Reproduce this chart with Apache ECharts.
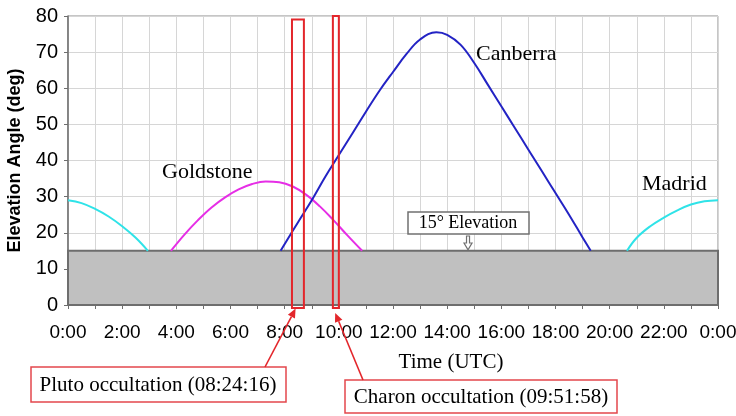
<!DOCTYPE html>
<html>
<head>
<meta charset="utf-8">
<script src="https://cdn.jsdelivr.net/npm/echarts@6/dist/echarts.min.js"></script>
<style>
  html, body { margin: 0; padding: 0; background: #fff; }
  #chart { width: 736px; height: 416px; }
</style>
</head>
<body>
<div id="chart"></div>
<script>
  // elevation tracks (hour UTC, degrees)
  var madridAmHours = [0, 0.5, 1, 1.5, 2, 2.5, 2.95];
  var madridAmElev = [29, 28.2, 26.6, 24.5, 21.8, 18.6, 15];
  var goldstoneHours = [3.8, 4.3, 4.8, 5.3, 5.8, 6.3, 6.8, 7.3, 7.8, 8.3, 8.8, 9.3, 9.8, 10.3, 10.86];
  var goldstoneElev = [15, 19.5, 23.5, 27, 29.8, 32, 33.5, 34.2, 34, 32.8, 30.5, 27.3, 23.5, 19.4, 15];
  var canberraHours = [7.85, 8.5, 9, 9.5, 10, 10.5, 11, 11.5, 12, 12.5, 13, 13.6, 14, 14.5, 15, 15.5, 16, 16.5, 17, 17.5, 18, 18.5, 19, 19.3];
  var canberraElev = [15, 23, 29, 35.5, 41.5, 47.5, 53.5, 59.3, 64.5, 69.5, 73.5, 75.5, 74.8, 72, 67, 61, 55, 49, 43, 37, 31, 25, 18.7, 15];
  var madridPmHours = [20.64, 21, 21.5, 22, 22.5, 23, 23.5, 24];
  var madridPmElev = [15, 18.6, 21.8, 24.2, 26.2, 27.8, 28.7, 29];

  var xTicks = [0, 24, 1];          // min, max, step (hours)
  var yTicks = [0, 80, 10];         // min, max, step (deg)
  var minElevation = 15;

  // occultation windows: [start, end, bottom, top]
  var plutoBox = [8.27, 8.71, -0.8, 79];
  var charonBox = [9.78, 10.0, -0.8, 80];
  var plutoTime = 8 + 24 / 60 + 16 / 3600;
  var charonTime = 9 + 51 / 60 + 58 / 3600;
  var elevationNoteHour = 14.77;

  function pairs(xs, ys) {
    return xs.map(function (x, i) { return [x, ys[i]]; });
  }

  var chart = echarts.init(document.getElementById('chart'));

  function boxRender(fill, stroke, lw) {
    return function (params, api) {
      var p0 = api.coord([api.value(0), api.value(3)]);
      var p1 = api.coord([api.value(1), api.value(2)]);
      return {
        type: 'rect',
        shape: { x: p0[0], y: p0[1], width: p1[0] - p0[0], height: p1[1] - p0[1] },
        style: { fill: fill, stroke: stroke, lineWidth: lw }
      };
    };
  }

  function track(name, data, color) {
    return {
      name: name,
      type: 'line',
      data: data,
      smooth: 0.4,
      showSymbol: false,
      z: 3,
      lineStyle: { color: color, width: 2 },
      itemStyle: { color: color }
    };
  }

  var option = {
    animation: false,
    backgroundColor: '#fff',
    grid: {
      left: 68, right: 18, top: 16, bottom: 111,
      outerBoundsMode: 'none',
      containLabel: false,
      show: true, borderColor: '#8c8c8c', borderWidth: 1
    },
    xAxis: {
      type: 'value',
      min: xTicks[0], max: xTicks[1], interval: xTicks[2],
      axisLine: { lineStyle: { color: '#6e6e6e', width: 1.5 } },
      axisTick: { length: 4, lineStyle: { color: '#6e6e6e' } },
      axisLabel: {
        margin: 18,
        fontFamily: 'Liberation Sans', fontSize: 19, color: '#000',
        formatter: function (v) { return v % 2 === 0 ? (v % 24) + ':00' : ''; }
      },
      splitLine: { lineStyle: { color: '#d6d6d6' } }
    },
    yAxis: {
      type: 'value',
      min: yTicks[0], max: yTicks[1], interval: yTicks[2],
      axisLine: { show: true, lineStyle: { color: '#6e6e6e', width: 1.5 } },
      axisTick: { show: true, length: 4, lineStyle: { color: '#6e6e6e' } },
      axisLabel: { margin: 10, fontFamily: 'Liberation Sans', fontSize: 20, color: '#000' },
      splitLine: { lineStyle: { color: '#d6d6d6' } },
      name: 'Elevation Angle (deg)',
      nameLocation: 'middle',
      nameGap: 44,
      nameTextStyle: { fontFamily: 'Liberation Sans', fontWeight: 'bold', fontSize: 18, color: '#000' }
    },
    series: [
      {
        name: 'below15', type: 'custom', z: 1,
        renderItem: boxRender('#c0c0c0', '#6e6e6e', 2),
        data: [[xTicks[0], xTicks[1], 0, minElevation]]
      },
      track('Madrid', pairs(madridAmHours, madridAmElev), '#2fe3e8'),
      track('Goldstone', pairs(goldstoneHours, goldstoneElev), '#e62ee6'),
      track('Canberra', pairs(canberraHours, canberraElev), '#2323c4'),
      track('Madrid2', pairs(madridPmHours, madridPmElev), '#2fe3e8'),
      {
        name: 'occultations', type: 'custom', z: 5,
        renderItem: boxRender('rgba(0,0,0,0)', '#e3262b', 2),
        data: [plutoBox, charonBox]
      }
    ]
  };

  chart.setOption(option);

  var serif = 'Liberation Serif';
  function arrow(from, to, color) {
    var dx = to[0] - from[0], dy = to[1] - from[1];
    var len = Math.sqrt(dx * dx + dy * dy), ux = dx / len, uy = dy / len;
    var hl = 9, hw = 4;
    var bx = to[0] - ux * hl, by = to[1] - uy * hl;
    return [
      { type: 'line', z: 20, shape: { x1: from[0], y1: from[1], x2: bx, y2: by },
        style: { stroke: color, lineWidth: 1.6 } },
      { type: 'polygon', z: 20,
        shape: { points: [to, [bx - uy * hw, by + ux * hw], [bx + uy * hw, by - ux * hw]] },
        style: { fill: color } }
    ];
  }

  var plutoTip = chart.convertToPixel({ gridIndex: 0 }, [plutoTime, -1]);
  var charonTip = chart.convertToPixel({ gridIndex: 0 }, [charonTime, -2.2]);
  var bandTop = chart.convertToPixel({ gridIndex: 0 }, [elevationNoteHour, minElevation]);
  var ex = bandTop[0], ey = bandTop[1];

  var graphics = [
    { type: 'text', x: 162, y: 172, style: { text: 'Goldstone', font: '22px ' + serif, fill: '#000', verticalAlign: 'middle' } },
    { type: 'text', x: 476, y: 54, style: { text: 'Canberra', font: '22px ' + serif, fill: '#000', verticalAlign: 'middle' } },
    { type: 'text', x: 642, y: 184, style: { text: 'Madrid', font: '22px ' + serif, fill: '#000', verticalAlign: 'middle' } },
    { type: 'text', x: 451, y: 362, style: { text: 'Time (UTC)', font: '21px ' + serif, fill: '#000', align: 'center', verticalAlign: 'middle' } },

    // 15 deg elevation callout
    { type: 'rect', z: 10, shape: { x: 408, y: 212, width: 121, height: 22 },
      style: { fill: '#fff', stroke: '#707070', lineWidth: 1.5 } },
    { type: 'text', z: 11, x: 468, y: 223, style: { text: '15° Elevation', font: '18px ' + serif, fill: '#000', align: 'center', verticalAlign: 'middle' } },
    { type: 'polygon', z: 10,
      shape: { points: [[ex - 1.5, 236], [ex + 1.5, 236], [ex + 1.5, 243], [ex + 4, 243], [ex, ey - 1], [ex - 4, 243], [ex - 1.5, 243]] },
      style: { fill: '#fff', stroke: '#707070', lineWidth: 1.2 } },

    // occultation notes
    { type: 'rect', z: 10, shape: { x: 31, y: 367, width: 255, height: 35 },
      style: { fill: '#fff', stroke: '#e3474c', lineWidth: 1.5 } },
    { type: 'text', z: 11, x: 158, y: 385, style: { text: 'Pluto occultation (08:24:16)', font: '21px ' + serif, fill: '#000', align: 'center', verticalAlign: 'middle' } },
    { type: 'rect', z: 10, shape: { x: 345, y: 380, width: 272, height: 33 },
      style: { fill: '#fff', stroke: '#e3474c', lineWidth: 1.5 } },
    { type: 'text', z: 11, x: 481, y: 397, style: { text: 'Charon occultation (09:51:58)', font: '21px ' + serif, fill: '#000', align: 'center', verticalAlign: 'middle' } }
  ];

  graphics = graphics
    .concat(arrow([265, 367], plutoTip, '#e3262b'))
    .concat(arrow([363, 380], charonTip, '#e3262b'));

  chart.setOption({ graphic: graphics });
</script>
</body>
</html>
